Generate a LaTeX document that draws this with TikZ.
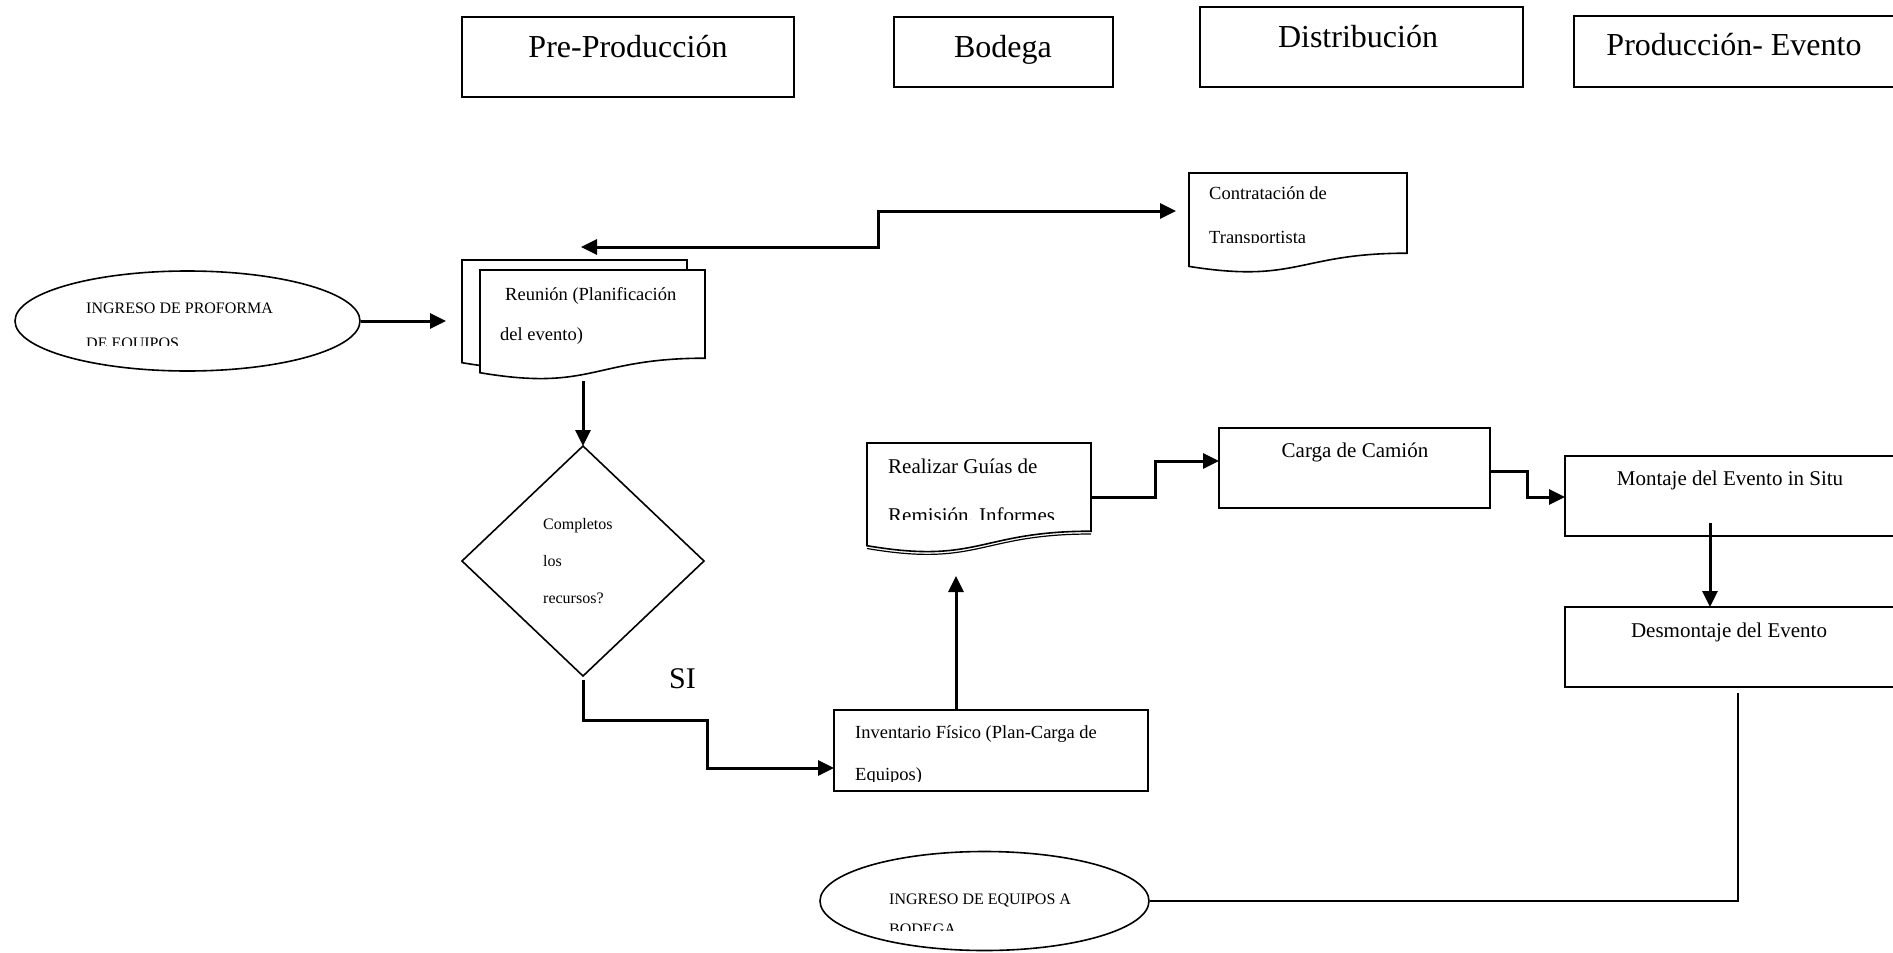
\documentclass[tikz,border=0pt]{standalone}
\usepackage{fontspec}
\setmainfont{Liberation Serif}
\usetikzlibrary{arrows.meta,shapes.geometric}
\begin{document}
\begin{tikzpicture}[x=1pt,y=-1pt,
  shp/.style={draw,line width=1.6pt,inner sep=0pt,outer sep=0pt,anchor=north west},
  conn/.style={line width=3pt,-{Triangle[length=16pt,width=15pt]}},
  twoway/.style={line width=3pt,{Triangle[length=16pt,width=15pt]}-{Triangle[length=16pt,width=15pt]}},
  plainline/.style={line width=2.6pt},
  hdr/.style={font=\fontsize{32}{38}\selectfont,inner sep=0pt,anchor=base},
  bodytxt/.style={font=\fontsize{18.5}{22}\selectfont,inner sep=0pt,anchor=base west},
  bigtxt/.style={font=\fontsize{21}{25}\selectfont,inner sep=0pt,anchor=base},
  smalltxt/.style={font=\fontsize{16}{19}\selectfont,inner sep=0pt,anchor=base west},
  sitxt/.style={font=\fontsize{30}{36}\selectfont,inner sep=0pt,anchor=base west},
  docshape/.style={draw,line width=1.6pt,fill=white,line join=miter},
  ell/.style={draw,ellipse,line width=1.6pt,inner sep=0pt,fill=white},
]
\useasboundingbox (0,0) rectangle (1893,953);
\clip (0,0) rectangle (1893,953);

% ---------- headers ----------
\node[shp,minimum width=332pt,minimum height=80pt] (hpre) at (462,17) {};
\node[hdr] (lpre) at (628,57) {Pre-Producción};
\node[shp,minimum width=219pt,minimum height=70pt] (hbod) at (894,17) {};
\node[hdr] (lbod) at (1003,57) {Bodega};
\node[shp,minimum width=323pt,minimum height=80pt] (hdis) at (1200,7) {};
\node[hdr] (ldis) at (1358,47) {Distribución};
\node[shp,minimum width=400pt,minimum height=71pt] (hpro) at (1574,16) {};
\node[hdr] (lpro) at (1734,55) {Producción- Evento};

% ---------- INGRESO DE PROFORMA ----------
\node[ell,minimum width=345pt,minimum height=100pt] (eprof) at (187.5,321) {};
\node[smalltxt] (prof1) at (86,313) {INGRESO DE PROFORMA};
\begin{scope}
\clip (0,0) rectangle (1893,345);
\node[smalltxt] (prof2) at (86,348) {DE EQUIPOS};
\end{scope}

% ---------- Reunion (multi document) ----------
\draw[docshape] (462,260) -- (687,260) -- (687,348.2) .. controls (574.5,348.2) and (574.5,381.8) .. (462,362.7) -- cycle;
\draw[docshape] (480,270) -- (705,270) -- (705,358.2) .. controls (592.5,358.2) and (592.5,391.8) .. (480,372.7) -- cycle;
\node[bodytxt] (reu1) at (505,300) {Reunión (Planificación};
\node[bodytxt] (reu2) at (500,340) {del evento)};

% ---------- Contratacion ----------
\draw[docshape] (1189,173) -- (1407,173) -- (1407,253.2) .. controls (1298,253.2) and (1298,283.8) .. (1189,266.4) -- cycle;
\node[bodytxt] (con1) at (1209,199) {Contratación de};
\begin{scope}
\clip (0,0) rectangle (1893,242);
\node[bodytxt] (con2) at (1209,243) {Transportista};
\end{scope}

% ---------- Diamond ----------
\coordinate (dT) at (583,446);
\coordinate (dR) at (704,561);
\coordinate (dB) at (583,676);
\coordinate (dL) at (462,561);
\draw[line width=1.6pt,line join=miter] (dT) -- (dR) -- (dB) -- (dL) -- cycle;
\node[smalltxt] (dia1) at (543,529) {Completos};
\node[smalltxt] (dia2) at (543,566) {los};
\node[smalltxt] (dia3) at (543,603) {recursos?};
\node[sitxt] (si) at (669,688) {SI};

% ---------- Inventario ----------
\node[shp,minimum width=314pt,minimum height=81pt] (inv) at (834,710) {};
\node[bodytxt] (inv1) at (855,738) {Inventario Físico (Plan-Carga de};
\begin{scope}
\clip (0,0) rectangle (1893,781);
\node[bodytxt] (inv2) at (855,780) {Equipos)};
\end{scope}

% ---------- Realizar Guias ----------
\draw[docshape] (867,443) -- (1091,443) -- (1091,531.2) .. controls (979,531.2) and (979,564.8) .. (867,545.7) -- cycle;
\draw[line width=1.2pt] (1091,534) .. controls (979,534) and (979,567.6) .. (867,548.5);
\node[bodytxt,font=\fontsize{21}{25}\selectfont] (rea1) at (888,473) {Realizar Guías de};
\begin{scope}
\clip (0,0) rectangle (1893,519);
\node[bodytxt,font=\fontsize{21}{25}\selectfont] (rea2) at (888,522) {Remisión, Informes};
\end{scope}

% ---------- Carga / Montaje / Desmontaje ----------
\node[shp,minimum width=271pt,minimum height=80pt] (carga) at (1219,428) {};
\node[bigtxt] (lcarga) at (1355,457) {Carga de Camión};
\node[shp,minimum width=400pt,minimum height=80pt] (mont) at (1565,456) {};
\node[bigtxt] (lmont) at (1730,485) {Montaje del Evento in Situ};
\node[shp,minimum width=400pt,minimum height=80pt] (desm) at (1565,607) {};
\node[bigtxt] (ldesm) at (1729,637) {Desmontaje del Evento};

% ---------- INGRESO DE EQUIPOS A BODEGA ----------
\node[ell,minimum width=329pt,minimum height=99pt] (ebod) at (984.5,901) {};
\node[smalltxt] (ebod1) at (889,904) {INGRESO DE EQUIPOS A};
\begin{scope}
\clip (0,0) rectangle (1893,930);
\node[smalltxt] (ebod2) at (889,934) {BODEGA};
\end{scope}

% ---------- connectors ----------
\coordinate (reuW) at (446,321);
\draw[conn] (eprof.east) -- (reuW);

\coordinate (reuN) at (581,247);
\coordinate (contW) at (1176,211);
\draw[twoway] (reuN) -- (878,247) |- (contW);

\coordinate (reuS) at (583,381);
\draw[conn] (reuS) -- (dT);

\coordinate (dBs) at (583,680);
\coordinate (invIn) at (834,768);
\draw[conn] (dBs) |- (707,720) |- (invIn);

\coordinate (invN) at (956,710);
\coordinate (reaS) at (956,576);
\draw[conn] (invN) -- (reaS);

\coordinate (reaE) at (1091,497);
\coordinate (cargaW) at (1219,461);
\draw[conn] (reaE) -- (1155,497) |- (cargaW);

\coordinate (cargaE) at (1490,471);
\coordinate (montW) at (1565,497);
\draw[conn] (cargaE) -- (1527,471) |- (montW);

\coordinate (montIn) at (1710,523);
\draw[conn] (montIn) -- (desm.north -| montIn);

\coordinate (desmS) at (1738,693);
\draw[plainline] (desmS) |- (ebod.east);
\end{tikzpicture}
\end{document}
